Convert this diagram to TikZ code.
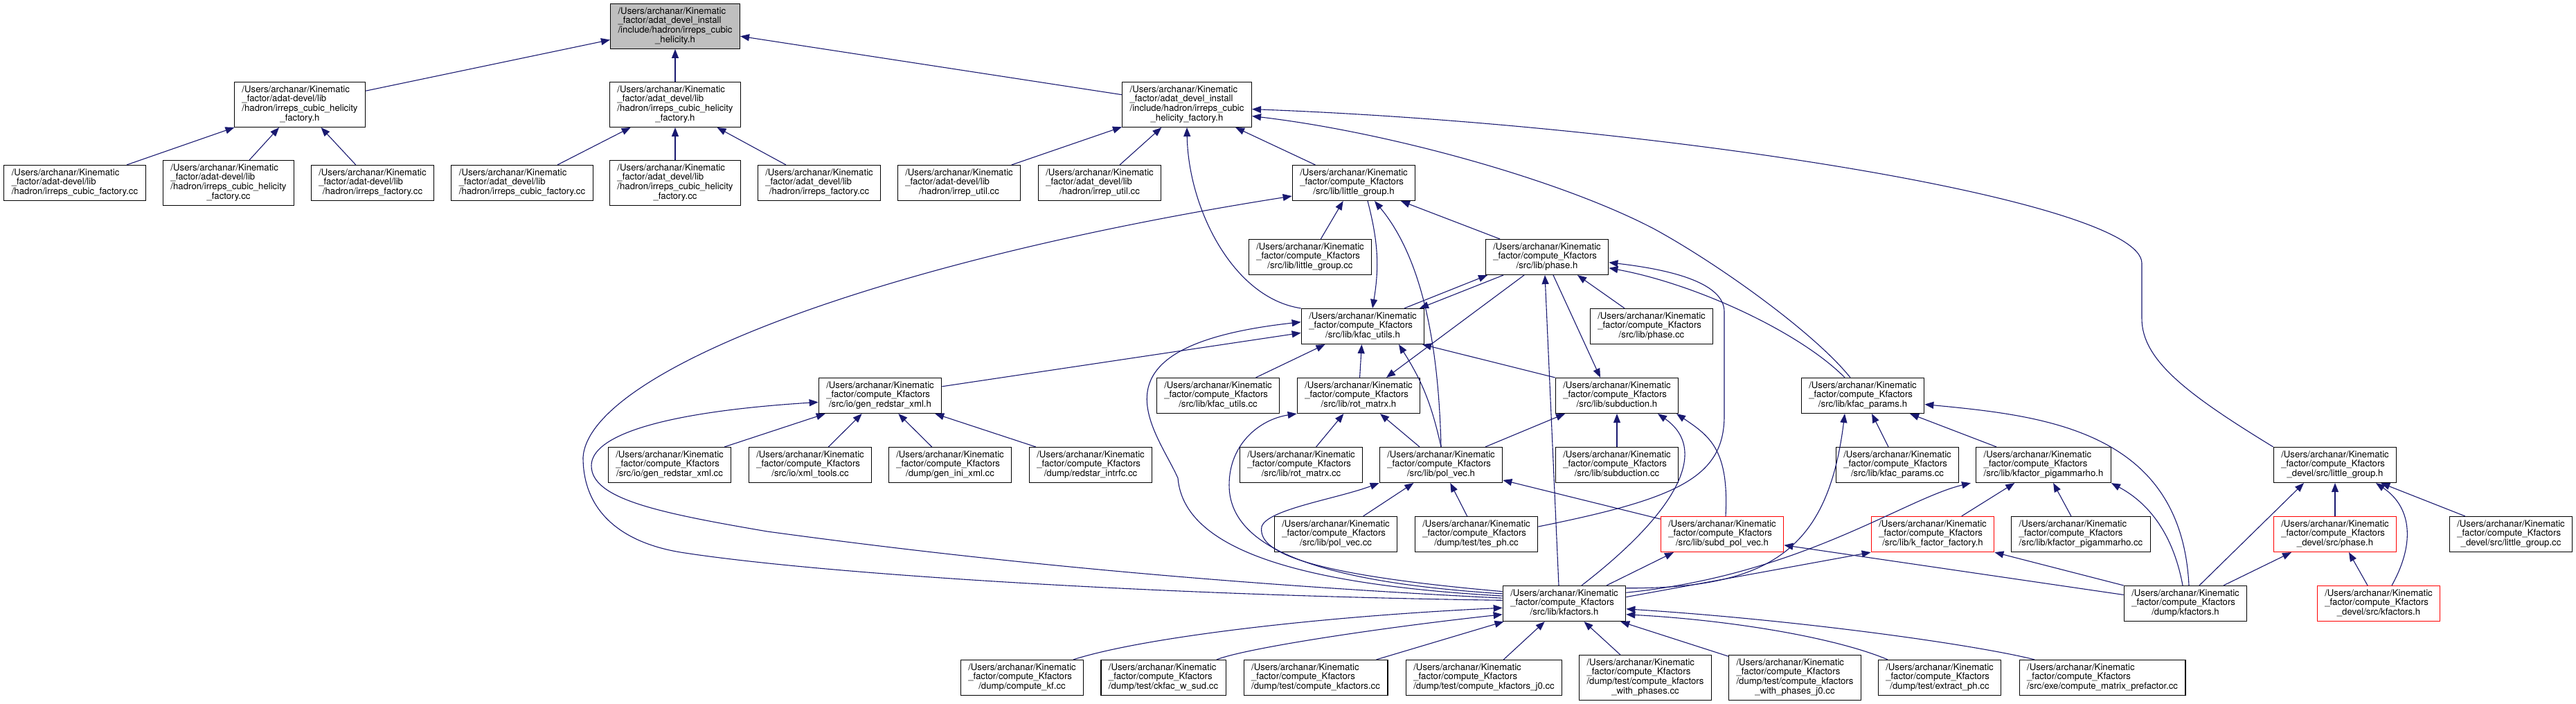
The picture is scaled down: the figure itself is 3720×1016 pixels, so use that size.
\documentclass[tikz,border=0pt]{standalone}
\usepackage{fontspec}
\setmainfont{TeX Gyre Heros}
\usetikzlibrary{arrows.meta}
\definecolor{edgeblue}{RGB}{25,25,112}
\definecolor{rootgray}{RGB}{191,191,191}
\newcommand{\kfile}[5][file]{%
  \node[#1] (#2) at (#3) {\begin{tabular}{@{}l@{}}/Users/archanar/Kinematic\\#4\\\multicolumn{1}{@{}c@{}}{#5}\end{tabular}};}

\begin{document}
\begin{tikzpicture}[x=1pt,y=1pt,
  file/.style={draw=black,line width=1.2pt,fill=white,inner xsep=11pt,inner ysep=5pt,
               font=\fontsize{13.2}{13.4}\selectfont},
  rootfile/.style={file,fill=rootgray},
  redfile/.style={file,draw=red},
  inc/.style={-{Triangle[length=13pt,width=10pt]},draw=edgeblue,line width=1.1pt}]
\useasboundingbox (0,0) rectangle (3720,-1016);
% ---- included header
\kfile[rootfile]{hel}{975,-38}{\_factor/adat\_devel\_install\\/include/hadron/irreps\_cubic}{\_helicity.h}
% ---- factories
\kfile{facA}{433,-151}{\_factor/adat-devel/lib\\/hadron/irreps\_cubic\_helicity}{\_factory.h}
\kfile{facB}{975,-151}{\_factor/adat\_devel/lib\\/hadron/irreps\_cubic\_helicity}{\_factory.h}
\kfile{facI}{1714,-151}{\_factor/adat\_devel\_install\\/include/hadron/irreps\_cubic}{\_helicity\_factory.h}
% ---- adat sources
\kfile{cubA}{108,-264}{\_factor/adat-devel/lib}{/hadron/irreps\_cubic\_factory.cc}
\kfile{hfcA}{330,-264}{\_factor/adat-devel/lib\\/hadron/irreps\_cubic\_helicity}{\_factory.cc}
\kfile{irfA}{538,-264}{\_factor/adat-devel/lib}{/hadron/irreps\_factory.cc}
\kfile{cubB}{754,-264}{\_factor/adat\_devel/lib}{/hadron/irreps\_cubic\_factory.cc}
\kfile{hfcB}{975,-264}{\_factor/adat\_devel/lib\\/hadron/irreps\_cubic\_helicity}{\_factory.cc}
\kfile{irfB}{1183,-264}{\_factor/adat\_devel/lib}{/hadron/irreps\_factory.cc}
\kfile{utlA}{1385,-264}{\_factor/adat-devel/lib}{/hadron/irrep\_util.cc}
\kfile{utlB}{1588,-264}{\_factor/adat\_devel/lib}{/hadron/irrep\_util.cc}
\kfile{lgh}{1955,-264}{\_factor/compute\_Kfactors}{/src/lib/little\_group.h}
% ---- compute_Kfactors lib
\kfile{lgcc}{1892,-371}{\_factor/compute\_Kfactors}{/src/lib/little\_group.cc}
\kfile{phh}{2234,-371}{\_factor/compute\_Kfactors}{/src/lib/phase.h}
\kfile{kuh}{1968,-471}{\_factor/compute\_Kfactors}{/src/lib/kfac\_utils.h}
\kfile{phcc}{2385,-471}{\_factor/compute\_Kfactors}{/src/lib/phase.cc}
\kfile{gxh}{1271,-571}{\_factor/compute\_Kfactors}{/src/io/gen\_redstar\_xml.h}
\kfile{kucc}{1759,-571}{\_factor/compute\_Kfactors}{/src/lib/kfac\_utils.cc}
\kfile{rmh}{1962,-571}{\_factor/compute\_Kfactors}{/src/lib/rot\_matrx.h}
\kfile{sdh}{2335,-571}{\_factor/compute\_Kfactors}{/src/lib/subduction.h}
\kfile{kph}{2690,-571}{\_factor/compute\_Kfactors}{/src/lib/kfac\_params.h}
% ---- row of sources
\kfile{gxcc}{967,-671}{\_factor/compute\_Kfactors}{/src/io/gen\_redstar\_xml.cc}
\kfile{xtcc}{1170,-671}{\_factor/compute\_Kfactors}{/src/io/xml\_tools.cc}
\kfile{gicc}{1372,-671}{\_factor/compute\_Kfactors}{/dump/gen\_ini\_xml.cc}
\kfile{ricc}{1575,-671}{\_factor/compute\_Kfactors}{/dump/redstar\_intrfc.cc}
\kfile{rmcc}{1879,-671}{\_factor/compute\_Kfactors}{/src/lib/rot\_matrx.cc}
\kfile{pvh}{2081,-671}{\_factor/compute\_Kfactors}{/src/lib/pol\_vec.h}
\kfile{sdcc}{2335,-671}{\_factor/compute\_Kfactors}{/src/lib/subduction.cc}
\kfile{kpcc}{2740,-671}{\_factor/compute\_Kfactors}{/src/lib/kfac\_params.cc}
\kfile{pgh}{2951,-671}{\_factor/compute\_Kfactors}{/src/lib/kfactor\_pigammarho.h}
\kfile{dlgh}{3372,-671}{\_factor/compute\_Kfactors}{\_devel/src/little\_group.h}
\kfile{pvcc}{1929,-771}{\_factor/compute\_Kfactors}{/src/lib/pol\_vec.cc}
\kfile{tpcc}{2132,-771}{\_factor/compute\_Kfactors}{/dump/test/tes\_ph.cc}
\kfile[redfile]{spvh}{2487,-771}{\_factor/compute\_Kfactors}{/src/lib/subd\_pol\_vec.h}
\kfile[redfile]{kffh}{2791,-771}{\_factor/compute\_Kfactors}{/src/lib/k\_factor\_factory.h}
\kfile{pgcc}{3005,-771}{\_factor/compute\_Kfactors}{/src/lib/kfactor\_pigammarho.cc}
\kfile[redfile]{dphh}{3372,-771}{\_factor/compute\_Kfactors}{\_devel/src/phase.h}
\kfile{dlgcc}{3626,-771}{\_factor/compute\_Kfactors}{\_devel/src/little\_group.cc}
% ---- kfactors headers
\kfile{kfh}{2259,-871}{\_factor/compute\_Kfactors}{/src/lib/kfactors.h}
\kfile{dkfh}{3156,-871}{\_factor/compute\_Kfactors}{/dump/kfactors.h}
\kfile[redfile]{dvkfh}{3435,-871}{\_factor/compute\_Kfactors}{\_devel/src/kfactors.h}
% ---- drivers
\kfile{ckf}{1476,-978}{\_factor/compute\_Kfactors}{/dump/compute\_kf.cc}
\kfile{cws}{1680,-978}{\_factor/compute\_Kfactors}{/dump/test/ckfac\_w\_sud.cc}
\kfile{ckfcc}{1900,-978}{\_factor/compute\_Kfactors}{/dump/test/compute\_kfactors.cc}
\kfile{ckj0}{2143,-978}{\_factor/compute\_Kfactors}{/dump/test/compute\_kfactors\_j0.cc}
\kfile{ckwp}{2376,-978}{\_factor/compute\_Kfactors\\/dump/test/compute\_kfactors}{\_with\_phases.cc}
\kfile{ckwpj}{2592,-978}{\_factor/compute\_Kfactors\\/dump/test/compute\_kfactors}{\_with\_phases\_j0.cc}
\kfile{exph}{2801,-978}{\_factor/compute\_Kfactors}{/dump/test/extract\_ph.cc}
\kfile{cmp}{3036,-978}{\_factor/compute\_Kfactors}{/src/exe/compute\_matrix\_prefactor.cc}
% ---- adat includes
\draw[inc] (facA) -- (hel);
\draw[inc] (facB) -- (hel);
\draw[inc] (facI) -- (hel);
\draw[inc] (cubA) -- (facA);
\draw[inc] (hfcA) -- (facA);
\draw[inc] (irfA) -- (facA);
\draw[inc] (cubB) -- (facB);
\draw[inc] (hfcB) -- (facB);
\draw[inc] (irfB) -- (facB);
\draw[inc] (utlA) -- (facI);
\draw[inc] (utlB) -- (facI);
\draw[inc] (lgh) -- (facI);
\draw[inc] (kuh.north west) .. controls (1780,-430) and (1716,-300) .. (facI.south);
\draw[inc] ([xshift=-18pt]kph.north) .. controls (2620,-480) and (2480,-380) .. (2388,-330)
  .. controls (2250,-258) and (2000,-190) .. (facI.-10);
\draw[inc] (dlgh.north west) .. controls (3160,-570) and (3093,-520) .. (3093,-460) -- (3093,-380)
  .. controls (3093,-290) and (2400,-180) .. (facI.-4);
% ---- little_group.h
\draw[inc] (lgcc) -- (lgh);
\draw[inc] (phh) -- (lgh);
\draw[inc] (pvh.north) .. controls (2078,-520) and (2060,-380) .. ([xshift=30pt]lgh.south);
\draw[inc] ([xshift=20pt]lgh.south) to[bend left=12] ([xshift=14pt]kuh.north);
\draw[inc] (kfh.177) .. controls (1700,-860) and (1200,-830) .. (989,-798)
  .. controls (900,-785) and (842,-740) .. (842,-660)
  .. controls (850,-540) and (1250,-380) .. (lgh.192);
% ---- kfac_utils.h
\draw[inc] (gxh) -- (kuh.186);
\draw[inc] (kfh.173) .. controls (1900,-845) and (1710,-800) .. (1701,-690)
  .. controls (1670,-620) and (1560,-500) .. (kuh.176);
\draw[inc] ([xshift=60pt]kuh.north) -- ([xshift=-86pt]phh.south);
\draw[inc] ([xshift=-63pt]phh.south) -- ([xshift=82pt]kuh.north);
\draw[inc] (kucc) -- (kuh);
\draw[inc] (rmh) -- (kuh);
\draw[inc] (pvh.north) to[bend right=10] ([xshift=52pt]kuh.south);
\draw[inc] (sdh.north west) -- ([xshift=86pt]kuh.south);
% ---- phase.h
\draw[inc] ([xshift=-33pt]phh.south) -- ([xshift=40pt]rmh.north);
\draw[inc] ([xshift=-8pt]kfh.north) -- ([xshift=-3pt]phh.south);
\draw[inc] ([xshift=9pt]phh.south) -- ([xshift=-24pt]sdh.north);
\draw[inc] ([xshift=-39pt]phcc.north) -- ([xshift=44pt]phh.south);
\draw[inc] ([xshift=-26pt]kph.north) .. controls (2600,-480) and (2450,-410) .. (phh.-10);
\draw[inc] (tpcc.7) .. controls (2420,-720) and (2490,-690) .. (2490,-600) -- (2490,-450)
  .. controls (2490,-410) and (2420,-390) .. (phh.-5);
% ---- subduction.h
\draw[inc] (sdcc) -- (sdh);
\draw[inc] ([xshift=64pt]pvh.north) -- ([xshift=-75pt]sdh.south);
\draw[inc] ([xshift=25pt]kfh.north) .. controls (2420,-740) and (2470,-650) .. ([xshift=59pt]sdh.south);
\draw[inc] ([xshift=5pt]spvh.north) .. controls (2497,-650) and (2470,-630) .. ([xshift=86pt]sdh.south);
% ---- rot_matrx.h
\draw[inc] (rmcc) -- (rmh);
\draw[inc] (pvh) -- (rmh);
\draw[inc] (kfh.171) .. controls (1900,-840) and (1775,-790) .. (1775,-700)
  .. controls (1775,-640) and (1820,-605) .. (rmh.south west);
% ---- pol_vec.h
\draw[inc] (pvcc) -- (pvh);
\draw[inc] (tpcc) -- (pvh);
\draw[inc] (spvh) -- (pvh);
\draw[inc] (kfh.169) .. controls (1900,-830) and (1815,-800) .. (1822,-760)
  .. controls (1830,-735) and (1930,-720) .. (pvh.south west);
% ---- gen_redstar_xml.h
\draw[inc] (gxcc) -- (gxh);
\draw[inc] (xtcc) -- (gxh);
\draw[inc] (gicc) -- (gxh);
\draw[inc] (ricc) -- (gxh);
\draw[inc] (kfh.175) .. controls (1700,-840) and (1350,-800) .. (1108,-767)
  .. controls (950,-740) and (854,-720) .. (854,-672)
  .. controls (854,-630) and (950,-595) .. (gxh.186);
% ---- lib/kfactors.h
\draw[inc] ([xshift=74pt]ckf.north) .. controls (1650,-920) and (1900,-890) .. (kfh.184);
\draw[inc] ([xshift=77pt]cws.north) .. controls (1800,-935) and (2000,-905) .. (kfh.190);
\draw[inc] (ckfcc) -- (kfh);
\draw[inc] (ckj0) -- (kfh);
\draw[inc] (ckwp) -- (kfh);
\draw[inc] (ckwpj) -- (kfh);
\draw[inc] ([xshift=-75pt]exph.north) .. controls (2650,-920) and (2500,-895) .. (kfh.-10);
\draw[inc] ([xshift=-98pt]cmp.north) .. controls (2850,-930) and (2600,-895) .. (kfh.-5);
\draw[inc] ([xshift=61pt]kfh.north) -- ([xshift=-70pt]spvh.south);
\draw[inc] (kfh.6) -- (kffh.south west);
\draw[inc] (kfh.14) .. controls (2560,-850) and (2640,-790) .. ([xshift=-26pt]kph.south);
\draw[inc] (kfh.10) .. controls (2600,-830) and (2750,-720) .. ([xshift=-105pt]pgh.south);
% ---- kfac_params.h, kfactor_pigammarho.h
\draw[inc] (kpcc) -- (kph);
\draw[inc] (pgh) -- (kph);
\draw[inc] ([xshift=5pt]dkfh.north) .. controls (3150,-620) and (2950,-600) .. (kph.-8);
\draw[inc] (kffh) -- (pgh);
\draw[inc] (pgcc) -- (pgh);
\draw[inc] ([xshift=-4pt]dkfh.north) .. controls (3140,-780) and (3110,-730) .. (pgh.south east);
\draw[inc] (dkfh.north west) -- (kffh.south east);
\draw[inc] (dkfh.172) -- (spvh.-10);
% ---- devel
\draw[inc] ([xshift=20pt]dkfh.north) -- ([xshift=-45pt]dlgh.south);
\draw[inc] ([xshift=55pt]dkfh.north) -- ([xshift=-63pt]dphh.south);
\draw[inc] (dphh) -- (dlgh);
\draw[inc] ([xshift=-16pt]dvkfh.north) -- ([xshift=20pt]dphh.south);
\draw[inc] ([xshift=19pt]dvkfh.north) .. controls (3490,-780) and (3480,-730) .. ([xshift=59pt]dlgh.south);
\draw[inc] (dlgcc) -- (dlgh);
\end{tikzpicture}
\end{document}
